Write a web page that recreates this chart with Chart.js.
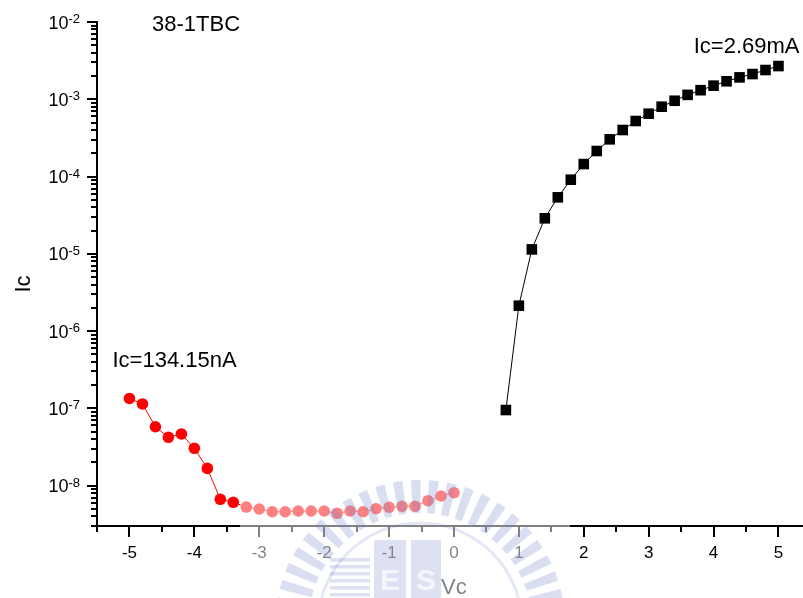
<!DOCTYPE html>
<html>
<head>
<meta charset="utf-8">
<script src="https://cdn.jsdelivr.net/npm/chart.js@4.4.1/dist/chart.umd.min.js"></script>
<style>
  html, body { margin: 0; padding: 0; background: #fff; overflow: hidden; }
  canvas { display: block; }
</style>
</head>
<body>
<canvas id="ivChart" width="803" height="598"></canvas>
<script>
// Collector current vs. collector voltage, device 38-1TBC
const vcForward = [0.8, 1.0, 1.2, 1.4, 1.6, 1.8, 2.0, 2.2, 2.4, 2.6, 2.8, 3.0, 3.2, 3.4, 3.6, 3.8, 4.0, 4.2, 4.4, 4.6, 4.8, 5.0];
const icForward = [9.5e-8, 2.13e-6, 1.14e-5, 2.88e-5, 5.38e-5, 9.10e-5, 1.45e-4, 2.14e-4, 3.03e-4, 4.00e-4, 5.23e-4, 6.50e-4, 8.01e-4, 9.57e-4, 1.14e-3, 1.31e-3, 1.50e-3, 1.71e-3, 1.92e-3, 2.12e-3, 2.39e-3, 2.69e-3];

const vcReverse = [-5.0, -4.8, -4.6, -4.4, -4.2, -4.0, -3.8, -3.6, -3.4, -3.2, -3.0, -2.8, -2.6, -2.4, -2.2, -2.0, -1.8, -1.6, -1.4, -1.2, -1.0, -0.8, -0.6, -0.4, -0.2, 0.0];
const icReverse = [1.3415e-7, 1.14e-7, 5.78e-8, 4.22e-8, 4.66e-8, 3.04e-8, 1.67e-8, 6.65e-9, 6.08e-9, 5.28e-9, 4.98e-9, 4.59e-9, 4.59e-9, 4.69e-9, 4.69e-9, 4.69e-9, 4.38e-9, 4.69e-9, 4.59e-9, 5.02e-9, 5.24e-9, 5.40e-9, 5.40e-9, 6.38e-9, 7.33e-9, 8.09e-9];

// Axis ticks
const xMajorTicks = [-5, -4, -3, -2, -1, 0, 1, 2, 3, 4, 5];
const xMinorTicks = [-5.5, -4.5, -3.5, -2.5, -1.5, -0.5, 0.5, 1.5, 2.5, 3.5, 4.5];
const yDecadeExponents = [-8, -7, -6, -5, -4, -3, -2];
const yMinorMultipliers = [2, 3, 4, 5, 6, 7, 8, 9];

const chartTitle = '38-1TBC';
const xAxisTitle = 'Vc';
const yAxisTitle = 'Ic';
const forwardNote = 'Ic=2.69mA';
const reverseNote = 'Ic=134.15nA';

const FONT = '"Liberation Sans", Arial, Helvetica, sans-serif';

function pairs(xs, ys) { return xs.map((x, i) => ({ x: x, y: ys[i] })); }

// Open L-shaped axes with outward ticks, superscript decade labels and notes
const axesPlugin = {
  id: 'originAxes',
  afterDraw(chart) {
    const ctx = chart.ctx;
    const xs = chart.scales.x, ys = chart.scales.y;
    const area = chart.chartArea;
    ctx.save();
    ctx.strokeStyle = '#000';
    ctx.fillStyle = '#000';
    ctx.lineWidth = 2;
    ctx.lineCap = 'butt';

    // axis lines
    ctx.beginPath();
    ctx.moveTo(area.left, area.top - 1);
    ctx.lineTo(area.left, area.bottom + 1);
    ctx.moveTo(area.left - 1, area.bottom);
    ctx.lineTo(chart.width, area.bottom);
    ctx.stroke();

    // x ticks
    ctx.beginPath();
    xMajorTicks.forEach(v => {
      const px = Math.round(xs.getPixelForValue(v));
      ctx.moveTo(px, area.bottom); ctx.lineTo(px, area.bottom + 11);
    });
    xMinorTicks.forEach(v => {
      const px = Math.round(xs.getPixelForValue(v));
      ctx.moveTo(px, area.bottom); ctx.lineTo(px, area.bottom + 6);
    });
    ctx.stroke();

    // y ticks
    ctx.beginPath();
    yDecadeExponents.forEach(e => {
      const py = Math.round(ys.getPixelForValue(Math.pow(10, e)));
      ctx.moveTo(area.left - 10, py); ctx.lineTo(area.left, py);
    });
    for (let e = yDecadeExponents[0] - 1; e < yDecadeExponents[yDecadeExponents.length - 1]; e++) {
      yMinorMultipliers.forEach(m => {
        const v = m * Math.pow(10, e);
        if (v < ys.min || v > ys.max) return;
        const py = Math.round(ys.getPixelForValue(v));
        ctx.moveTo(area.left - 6, py); ctx.lineTo(area.left, py);
      });
    }
    ctx.stroke();

    // x tick labels
    ctx.font = '17px ' + FONT;
    ctx.textAlign = 'center';
    ctx.textBaseline = 'alphabetic';
    xMajorTicks.forEach(v => {
      ctx.fillText(String(v), xs.getPixelForValue(v), area.bottom + 32);
    });

    // y tick labels: 10 with superscript exponent
    yDecadeExponents.forEach(e => {
      const py = ys.getPixelForValue(Math.pow(10, e));
      const sup = String(e);
      ctx.font = '13px ' + FONT;
      const supW = ctx.measureText(sup).width;
      const right = area.left - 17;
      ctx.textAlign = 'left';
      ctx.fillText(sup, right - supW, py + 1);
      ctx.font = '18px ' + FONT;
      ctx.textAlign = 'right';
      ctx.fillText('10', right - supW, py + 6.5);
    });

    // axis titles
    ctx.font = '22px ' + FONT;
    ctx.textAlign = 'center';
    ctx.fillText(xAxisTitle, xs.getPixelForValue(0), 594);
    ctx.save();
    ctx.translate(30, (area.top + area.bottom) / 2 + 10);
    ctx.rotate(-Math.PI / 2);
    ctx.fillText(yAxisTitle, 0, 0);
    ctx.restore();

    // title inside the plot
    ctx.textAlign = 'left';
    ctx.fillText(chartTitle, area.left + 55, area.top + 9);

    // end-point notes
    const fLast = icForward.length - 1;
    const fx = xs.getPixelForValue(vcForward[fLast]);
    const fy = ys.getPixelForValue(icForward[fLast]);
    ctx.textAlign = 'right';
    ctx.fillText(forwardNote, fx + 21, fy - 13);
    const rx = xs.getPixelForValue(vcReverse[0]);
    const ry = ys.getPixelForValue(icReverse[0]);
    ctx.textAlign = 'left';
    ctx.fillText(reverseNote, rx - 17, ry - 31);
    ctx.restore();
  }
};

// Faint campus seal stamped across the lower middle of the page
const sealPlugin = {
  id: 'campusSeal',
  afterDraw(chart) {
    const ctx = chart.ctx;
    ctx.save();
    ctx.fillStyle = 'rgba(255,255,255,0.5)';
    ctx.fillRect(240, 482, 330, 116);

    const cx = 420, cy = 625, rOut = 145, rIn = 112;
    ctx.fillStyle = 'rgba(120,135,205,0.28)';
    for (let a = 180; a <= 360; a += 7.2) {
      const a0 = a * Math.PI / 180, a1 = (a + 3.8) * Math.PI / 180;
      ctx.beginPath();
      ctx.moveTo(cx + rIn * Math.cos(a0), cy + rIn * Math.sin(a0));
      ctx.lineTo(cx + rOut * Math.cos(a0), cy + rOut * Math.sin(a0));
      ctx.lineTo(cx + rOut * Math.cos(a1), cy + rOut * Math.sin(a1));
      ctx.lineTo(cx + rIn * Math.cos(a1), cy + rIn * Math.sin(a1));
      ctx.closePath();
      ctx.fill();
    }
    ctx.strokeStyle = 'rgba(120,135,205,0.2)';
    ctx.lineWidth = 3;
    ctx.beginPath();
    ctx.arc(cx, cy, rIn - 10, Math.PI, 2 * Math.PI);
    ctx.stroke();

    // building stripes and letter tiles
    ctx.fillStyle = 'rgba(120,135,205,0.25)';
    for (let y = 558; y < 598; y += 7) ctx.fillRect(330, y, 40, 3.5);
    ctx.fillRect(374, 540, 32, 58);
    ctx.fillRect(411, 540, 30, 58);
    ctx.fillStyle = 'rgba(255,255,255,0.7)';
    ctx.font = 'bold 30px ' + FONT;
    ctx.textAlign = 'center';
    ctx.fillText('E', 390, 590);
    ctx.fillText('S', 426, 590);
    ctx.restore();
  }
};

new Chart(document.getElementById('ivChart'), {
  type: 'scatter',
  data: {
    datasets: [
      {
        data: pairs(vcForward, icForward),
        showLine: true,
        borderColor: '#000',
        borderWidth: 1,
        pointStyle: 'rect',
        pointRadius: 7.5,
        pointBorderWidth: 0,
        pointBackgroundColor: '#000'
      },
      {
        data: pairs(vcReverse, icReverse),
        showLine: true,
        borderColor: '#ff0000',
        borderWidth: 1,
        pointStyle: 'circle',
        pointRadius: 5.8,
        pointBorderWidth: 0,
        pointBackgroundColor: '#ff0000'
      }
    ]
  },
  options: {
    responsive: false,
    maintainAspectRatio: false,
    animation: false,
    devicePixelRatio: 1,
    layout: { autoPadding: false, padding: { left: 97, top: 22, right: 0, bottom: 72 } },
    plugins: { legend: { display: false }, tooltip: { enabled: false } },
    scales: {
      x: { type: 'linear', min: -5.5, max: 5.378, display: false },
      y: { type: 'logarithmic', min: 3e-9, max: 1e-2, display: false }
    }
  },
  plugins: [axesPlugin, sealPlugin]
});
</script>
</body>
</html>
